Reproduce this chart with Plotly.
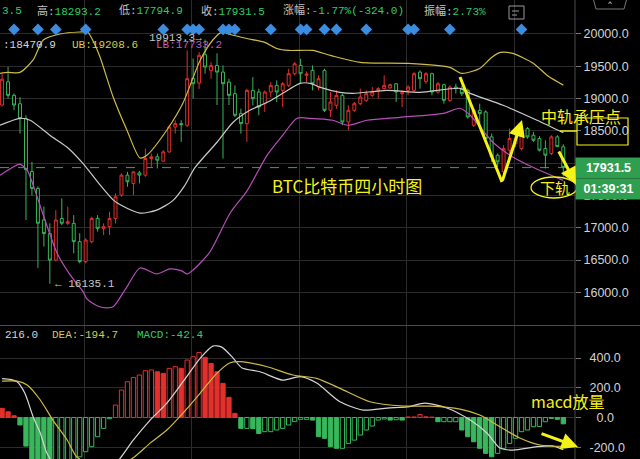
import plotly.graph_objects as go

# ---- 4h candles (index 0 = leftmost visible bar) ----
OPEN = [18900, 19260, 19050, 18920, 18690, 17870, 17610, 17120, 16910, 16500,
        17145, 17068, 17068, 16785, 16476, 16785, 17145, 16991, 17017, 17145,
        17506, 17815, 17686, 17850, 17815, 18072, 18098, 18031, 18175, 18560,
        18612, 18587, 19310, 19240, 19678, 19436, 19513, 19410, 19256, 19076,
        18767, 18612, 19127, 19102, 18921, 19102, 19205, 19127, 19205, 19385,
        19513, 19360, 19436, 19179, 19436, 18818, 18896, 19050, 18638, 18818,
        18921, 18973, 19050, 19128, 19153, 19165, 19230, 19076, 19128, 19128,
        19410, 19266, 19385, 19102, 19215, 18973, 19179, 19153, 19127, 18587,
        18818, 18793, 18407, 18124, 17866, 18201, 18300, 18226, 18535, 18433,
        18381, 18226, 18150, 18407, 18253.5]
HIGH = [19380, 19490, 19080, 19020, 18740, 18020, 17640, 17330, 17070, 17274,
        17454, 17326, 17197, 16914, 16836, 17171, 17197, 17068, 17248, 17532,
        17840, 17866, 17880, 17880, 18226, 18150, 18150, 18200, 18587, 18664,
        18664, 19745, 19620, 19720, 19913.3, 19565, 19700, 19513, 19308, 19205,
        18844, 19153, 19333, 19153, 19127, 19256, 19282, 19256, 19462, 19565,
        19617, 19420, 19514, 19360, 19462, 19102, 19128, 19076, 18896, 18947,
        19153, 19128, 19179, 19179, 19359, 19230, 19240, 19128, 19205, 19410,
        19436, 19410, 19400, 19256, 19230, 19205, 19230, 19200, 19153, 18844,
        18921, 18818, 18458, 18150, 18278, 18535, 18520, 18613, 18560, 18484,
        18420, 18355, 18433, 18433, 18293.2]
LOW = [18880, 19000, 18820, 18460, 17120, 17500, 16380, 16710, 16135.1, 16480,
       17042, 17042, 16605, 16450, 16450, 16760, 16940, 16888, 16888, 17068,
       17480, 17635, 17506, 17686, 17790, 17944, 17918, 18020, 18160, 18458,
       18330, 18560, 19000, 19150, 19385, 19308, 18900, 18072, 18900, 18715,
       18458, 18330, 18895, 18741, 18793, 19024, 18947, 18870, 19179, 19359,
       19230, 19250, 19128, 19128, 18793, 18715, 18844, 18587, 18510, 18793,
       18896, 18947, 19024, 18999, 19140, 19153, 18947, 18870, 19050, 19102,
       19153, 19230, 19050, 19076, 18921, 18947, 19076, 19040, 18690, 18560,
       18613, 18330, 18020, 17940, 17790, 18150, 18250, 18200, 18380, 18330,
       18180, 17918, 18124, 18252, 17794.9]
CLOSE = [19300, 19050, 18900, 18690, 17900, 17610, 17070, 16910, 16500, 17120,
         17070, 17094, 16785, 16476, 16811, 17145, 16991, 17017, 17145, 17480,
         17815, 17712, 17866, 17815, 18072, 18098, 18046, 18175, 18560, 18612,
         18597, 19308, 19230, 19670, 19488, 19513, 19410, 19230, 19050, 18741,
         18612, 19127, 18999, 18870, 19102, 19205, 19102, 19230, 19385, 19539,
         19385, 19380, 19230, 19308, 18818, 18947, 19050, 18638, 18818, 18921,
         19024, 19076, 19102, 19153, 19205, 19215, 19102, 19090, 19179, 19385,
         19308, 19385, 19102, 19230, 18973, 19179, 19153, 19076, 18715, 18818,
         18767, 18381, 18098, 18020, 18226, 18381, 18380, 18510, 18407, 18355,
         18201, 18124, 18407, 18255.5, 17931.5]
IDX = list(range(len(CLOSE)))

# ---- Bollinger band lines (index, value) ----
UB_IDX = [-0.35, 1, 3, 5.2, 6.9, 9.7, 13, 14.3, 15.2, 16.4, 18.6, 20.9, 23.1, 24.3,
          27.6, 30.3, 33.2, 35.3, 36.8, 38.2, 41, 44, 46, 48, 52, 55, 60, 68, 75,
          77, 80, 82, 83.5, 85.5, 89, 91.5, 94]
UB_VAL = [19390, 19405, 19405, 19598, 19907, 20000, 20031, 20030, 19900, 19644,
          19025, 18514, 18080, 18127, 18514, 18932, 19598, 19907, 20030, 19992,
          19930, 19869, 19776, 19745, 19745, 19668, 19560, 19544, 19483, 19390,
          19467, 19637, 19714, 19700, 19544, 19344, 19208.6]
MID_IDX = [-0.35, 3, 4.7, 8, 10.9, 13.5, 16.4, 18.6, 19.8, 23.1, 25.9, 28.6, 30.5,
           32.3, 36, 38.7, 41.5, 44.4, 47, 49.9, 51.6, 53.3, 56.6, 58.8, 64.5, 70,
           76.7, 78.4, 83.9, 89.6, 94]
MID_VAL = [18587, 18695, 18664, 18432, 18247, 18000, 17664, 17432, 17355, 17228,
           17274, 17420, 17640, 17930, 18324, 18633, 18819, 18942, 19081, 19236,
           19236, 19174, 19097, 19081, 19127, 19097, 19158, 19081, 18896, 18664,
           18470.9]
LB_IDX = [-0.35, 1.8, 3, 4.2, 5.2, 6.9, 9.2, 11.4, 13.6, 14.2, 16, 17.6, 18.6, 20.9,
          23.1, 25.9, 28.1, 30.1, 31, 32, 34.8, 38.2, 41, 44.4, 47, 49.4, 51.6,
          55.4, 57.9, 61.1, 66.6, 73.9, 76.7, 78.4, 82.2, 85.6, 88.9, 94]
LB_VAL = [17815, 17938, 17985, 17892, 17660, 17197, 16610, 16270, 16008, 15900,
          15790, 15760, 15776, 16085, 16378, 16285, 16363, 16332, 16285, 16347,
          16625, 17228, 17568, 18124, 18432, 18695, 18695, 18664, 18587, 18664,
          18710, 18772, 18850, 18741, 18324, 18093, 17938, 17733.2]

# ---- signal markers along the top of the price pane ----
SIGNAL_IDX = [2, 6, 9, 14, 27, 31, 32, 33, 37, 38, 39, 45, 50, 51, 54, 56, 61, 68,
              69, 75, 87]

# ---- MACD ----
MACD_HIST = [62, 39, 12, -50, -192, -300, -340, -360, -370, -350,
             -330, -310, -285, -264, -230, -196, -129, -73, -8, 84,
             185, 241, 270, 286, 315, 320, 308, 297, 331, 342,
             331, 387, 409, 438, 405, 364, 308, 230, 136, 28,
             -73, -73, -75, -107, -95, -95, -84, -73, -50, -28,
             -12, -12, -17, -129, -140, -196, -207, -207, -174, -152,
             -118, -84, -57, -17, -10, -17, -15, -17, 4, 4,
             20, 5, 3, -28, -28, -28, -28, -84, -129, -163,
             -207, -241, -264, -241, -207, -174, -140, -95, -84, -62,
             -60, -28, -6, -12, -42.4]
DIF_IDX = [0, 1.3, 2.5, 3.8, 5.2, 6.4, 7.5, 9, 12, 15, 17.5, 19.8, 22, 24.8, 27.6,
           30.3, 33.2, 35.3, 36.8, 38.7, 40.2, 43.2, 47, 49.9, 52.7, 56.6, 60.5,
           64.5, 67.8, 70.8, 74.5, 78.4, 81.2, 83.4, 85.6, 89.6, 92.3, 94]
DIF_VAL = [262, 257, 241, 165, 5, -104, -239, -330, -400, -430, -380, -273, -151,
           -17, 97, 241, 400, 481, 474, 400, 333, 308, 252, 275, 232, 106, 50, 64,
           71, 97, 64, -17, -104, -205, -219, -196, -192, -216.0]
DEA_IDX = [0, 2.5, 4.2, 6.4, 8.5, 10.9, 12.5, 15, 18, 21.9, 24.8, 27.6, 30.3, 33.2,
           36, 38.2, 39.9, 44.4, 48.7, 52.7, 56.6, 61.6, 67.2, 71.7, 76.7, 80,
           83.4, 86.7, 90.1, 94]
DEA_VAL = [245, 245, 219, 118, -17, -151, -264, -320, -345, -273, -172, -84, 30,
           165, 299, 369, 376, 342, 286, 264, 196, 106, 77, 77, 57, 17, -62, -138,
           -185, -194.7]

PRICE_TICKS = [16000, 16500, 17000, 17500, 18000, 18500, 19000, 19500, 20000]
MACD_TICKS = [-200, 0, 200, 400]
MACD_TICKTEXT = ["-200.0", "\u20070.0", "200.0", "400.0"]
GRID_X = [13.8, 31.8, 49.8, 67.8, 85.8]
COUNTDOWN = "01:39:31"

# ---- styling ----
W, H = 640, 459
PLOT_W = 575
RED = "#e2302c"
GREEN = "#38b75c"
TXT_GREEN = "#30cc68"
YELLOW_LINE = "#cdbb45"
MAGENTA = "#b94db9"
MID_GRAY = "#c9c9c9"
GRID = "#2c2c2c"
NOTE_YELLOW = "#f4f219"
MONO = "Liberation Mono, DejaVu Sans Mono, Noto Sans CJK SC, monospace"
CJK = "Noto Sans CJK SC, sans-serif"


def px_x(x):
    return x / PLOT_W


def px_y(y):
    return 1 - y / H


def label(text, x, y, color, size=11, family=MONO, anchor="left"):
    return dict(text=text, xref="paper", yref="paper", x=px_x(x), y=px_y(y),
                xanchor=anchor, yanchor="middle", showarrow=False,
                font=dict(color=color, size=size, family=family))


fig = go.Figure()

fig.add_trace(go.Candlestick(
    x=IDX, open=OPEN, high=HIGH, low=LOW, close=CLOSE,
    increasing=dict(line=dict(color=RED, width=1), fillcolor="black"),
    decreasing=dict(line=dict(color=GREEN, width=1), fillcolor="black"),
    whiskerwidth=0, hoverinfo="skip", xaxis="x", yaxis="y"))

for xs, ys, col in [(UB_IDX, UB_VAL, YELLOW_LINE), (MID_IDX, MID_VAL, MID_GRAY),
                    (LB_IDX, LB_VAL, MAGENTA)]:
    fig.add_trace(go.Scatter(x=xs, y=ys, mode="lines",
                             line=dict(color=col, width=1.2, shape="spline", smoothing=0.7),
                             hoverinfo="skip", xaxis="x", yaxis="y"))

SIGNAL_LEVEL = 20070
fig.add_trace(go.Scatter(x=SIGNAL_IDX, y=[SIGNAL_LEVEL] * len(SIGNAL_IDX), mode="markers",
                         marker=dict(symbol="diamond", size=9, color="#3b8de2"),
                         hoverinfo="skip", xaxis="x", yaxis="y"))

# MACD histogram: filled when the value falls versus the previous bar
filled = [True] + [MACD_HIST[i] < MACD_HIST[i - 1] for i in range(1, len(MACD_HIST))]
edge = [RED if v >= 0 else GREEN for v in MACD_HIST]
face = [edge[i] if filled[i] else "black" for i in range(len(MACD_HIST))]
fig.add_trace(go.Bar(x=IDX, y=MACD_HIST, width=0.72,
                     marker=dict(color=face, line=dict(color=edge, width=1)),
                     hoverinfo="skip", xaxis="x2", yaxis="y2"))
fig.add_trace(go.Scatter(x=DIF_IDX, y=DIF_VAL, mode="lines",
                         line=dict(color="#d6d6d6", width=1.2, shape="spline", smoothing=0.7),
                         hoverinfo="skip", xaxis="x2", yaxis="y2"))
fig.add_trace(go.Scatter(x=DEA_IDX, y=DEA_VAL, mode="lines",
                         line=dict(color=YELLOW_LINE, width=1.2, shape="spline", smoothing=0.7),
                         hoverinfo="skip", xaxis="x2", yaxis="y2"))

last, prev = CLOSE[-1], CLOSE[-2]
chg = last - prev
pct = chg / prev * 100
amp = (HIGH[-1] - LOW[-1]) / prev * 100
hi_i = HIGH.index(max(HIGH))
lo_i = LOW.index(min(LOW))


def kv(k, v):
    return f"{k}<span style='color:{TXT_GREEN}'>{v}</span>"


annotations = [
    # the open price and the MID / DIF names sit beyond the left edge; only their tails show
    label(f"{OPEN[-1]:.1f}"[-3:], 0, 11, TXT_GREEN),
    label(kv("高:", f"{HIGH[-1]:.1f}"), 35, 11, "#c4c4c4"),
    label(kv("低:", f"{LOW[-1]:.1f}"), 117, 11, "#c4c4c4"),
    label(kv("收:", f"{last:.1f}"), 199, 11, "#c4c4c4"),
    label(kv("涨幅:", f"{pct:.2f}%({chg:.1f})"), 281, 11, "#c4c4c4"),
    label(kv("振幅:", f"{amp:.2f}%"), 422, 11, "#c4c4c4"),
    label(f":{MID_VAL[-1]:.1f}", 1, 45, "#d6d6d6"),
    label(f"UB:{UB_VAL[-1]:.1f}", 70, 45, "#d8c84c"),
    label(f"LB:{LB_VAL[-1]:.1f}", 154, 45, "#c35ac3"),
    dict(text=f"{max(HIGH):.1f}→", xref="x", yref="y", x=hi_i - 0.1, y=max(HIGH),
         xanchor="right", yanchor="middle", yshift=2, showarrow=False,
         font=dict(color="#c8c8c8", size=11, family=MONO)),
    dict(text=f"← {min(LOW):.1f}", xref="x", yref="y", x=lo_i + 0.5, y=min(LOW),
         xanchor="left", yanchor="middle", showarrow=False,
         font=dict(color="#c8c8c8", size=11, family=MONO)),
    label(f"{DIF_VAL[-1]:.1f}".lstrip("-"), 3, 335, "#d6d6d6"),
    label(f"DEA:{DEA_VAL[-1]:.1f}", 50, 335, "#d8c84c"),
    label(f"MACD:{MACD_HIST[-1]:.1f}", 135, 335, TXT_GREEN),
    # price tag and countdown on the right axis
    dict(text=f"<b>{last:.1f}</b>", xref="paper", yref="y", x=1.0, y=last,
         xanchor="left", yanchor="middle", showarrow=False, width=63, height=18,
         bgcolor="#2f9e4f", borderpad=1, align="center",
         font=dict(color="white", size=12.5, family="Liberation Sans, Arial")),
    dict(text=f"<b>{COUNTDOWN}</b>", xref="paper", yref="paper", x=1.0, y=px_y(188.5),
         xanchor="left", yanchor="middle", showarrow=False, width=63, height=18,
         bgcolor="#2f9e4f", borderpad=1, align="center",
         font=dict(color="white", size=12.5, family="Liberation Sans, Arial")),
    # hand-drawn notes
    label("BTC比特币四小时图", 270, 185, NOTE_YELLOW, size=17, family=CJK),
    label("中轨承压点", 581, 116, NOTE_YELLOW, size=16, family=CJK, anchor="center"),
    label("下轨", 555, 188, NOTE_YELLOW, size=15, family=CJK, anchor="center"),
    label("macd放量", 568, 401, NOTE_YELLOW, size=16, family=CJK, anchor="center"),
    label("ˆ", 610, 8, "#aaaaaa", size=12, family="DejaVu Sans", anchor="center"),
]

arrow_style = dict(showarrow=True, arrowhead=2, arrowsize=1.1, arrowwidth=3,
                   arrowcolor=NOTE_YELLOW, text="", xref="paper", yref="paper")
for (hx, hy), (tx, ty) in [((522, 120), (502, 182)), ((576, 184), (558, 150)),
                           ((578, 447), (540, 433))]:
    annotations.append(dict(x=px_x(hx), y=px_y(hy), ax=tx - hx, ay=ty - hy, **arrow_style))

shapes = [
    # current price line
    dict(type="line", xref="paper", yref="y", x0=0, x1=1, y0=last, y1=last,
         line=dict(color="#2aa862", width=1, dash="dash"), layer="below"),
    # pane separator and right axis border
    dict(type="line", xref="paper", yref="paper", x0=0, x1=W / PLOT_W, y0=px_y(325.5),
         y1=px_y(325.5), line=dict(color="#4a4a4a", width=1)),
    dict(type="line", xref="paper", yref="paper", x0=1, x1=1, y0=0, y1=1,
         line=dict(color="#4a4a4a", width=1)),
    # V-shaped note, first leg
    dict(type="line", xref="paper", yref="paper", x0=px_x(460), y0=px_y(77),
         x1=px_x(502), y1=px_y(182), line=dict(color=NOTE_YELLOW, width=3)),
    # box around the mid-band resistance and its pointer
    dict(type="rect", xref="paper", yref="paper", x0=px_x(577), x1=px_x(628),
         y0=px_y(145), y1=px_y(118), line=dict(color=NOTE_YELLOW, width=1.2)),
    dict(type="line", xref="paper", yref="paper", x0=px_x(560), x1=px_x(577),
         y0=px_y(131), y1=px_y(131), line=dict(color=NOTE_YELLOW, width=1.5)),
    # ellipse around the lower-band note
    dict(type="circle", xref="paper", yref="paper", x0=px_x(531), x1=px_x(577),
         y0=px_y(198), y1=px_y(177), line=dict(color=NOTE_YELLOW, width=1.3)),
    # toolbar glyphs in the header
    dict(type="rect", xref="paper", yref="paper", x0=px_x(509), x1=px_x(524),
         y0=px_y(19), y1=px_y(6), line=dict(color="#9a9a9a", width=1)),
    dict(type="line", xref="paper", yref="paper", x0=px_x(512), x1=px_x(519),
         y0=px_y(11), y1=px_y(11), line=dict(color="#9a9a9a", width=1)),
    dict(type="line", xref="paper", yref="paper", x0=px_x(512), x1=px_x(517),
         y0=px_y(15), y1=px_y(15), line=dict(color="#9a9a9a", width=1)),
    dict(type="path", xref="paper", yref="paper",
         path=f"M {px_x(593)} {px_y(-2)} L {px_x(596)} {px_y(9)} L {px_x(624)} {px_y(9)} "
              f"L {px_x(627)} {px_y(-2)}",
         line=dict(color="#777777", width=1)),
]

axis_common = dict(showgrid=True, gridcolor=GRID, gridwidth=1, zeroline=False)
fig.update_layout(
    width=W, height=H, margin=dict(l=0, r=W - PLOT_W, t=0, b=0),
    paper_bgcolor="black", plot_bgcolor="black", showlegend=False,
    xaxis=dict(domain=[0, 1], range=[-0.35, 95.96], anchor="y", tickvals=GRID_X,
               showticklabels=False, ticks="", rangeslider=dict(visible=False),
               **axis_common),
    xaxis2=dict(domain=[0, 1], range=[-0.35, 95.96], anchor="y2", matches="x",
                tickvals=GRID_X, showticklabels=False, ticks="", **axis_common),
    yaxis=dict(domain=[1 - 325 / H, 1], range=[15495, 20526], side="right",
               anchor="x", tickvals=PRICE_TICKS, tickformat=".1f", ticks="outside",
               ticklen=5, tickcolor="#777", fixedrange=True,
               tickfont=dict(color="#d2d2d2", size=12.5, family="Liberation Sans, Arial"),
               **axis_common),
    yaxis2=dict(domain=[0, 1 - 326 / H], range=[-279, 616], side="right",
                anchor="x2", tickvals=MACD_TICKS, ticktext=MACD_TICKTEXT,
                ticks="outside", ticklen=5, tickcolor="#777", ticklabelstandoff=6,
                tickfont=dict(color="#d2d2d2", size=12.5, family="Liberation Sans, Arial"),
                **axis_common),
    annotations=annotations, shapes=shapes, bargap=0.2,
)

fig.write_html("out.html")
